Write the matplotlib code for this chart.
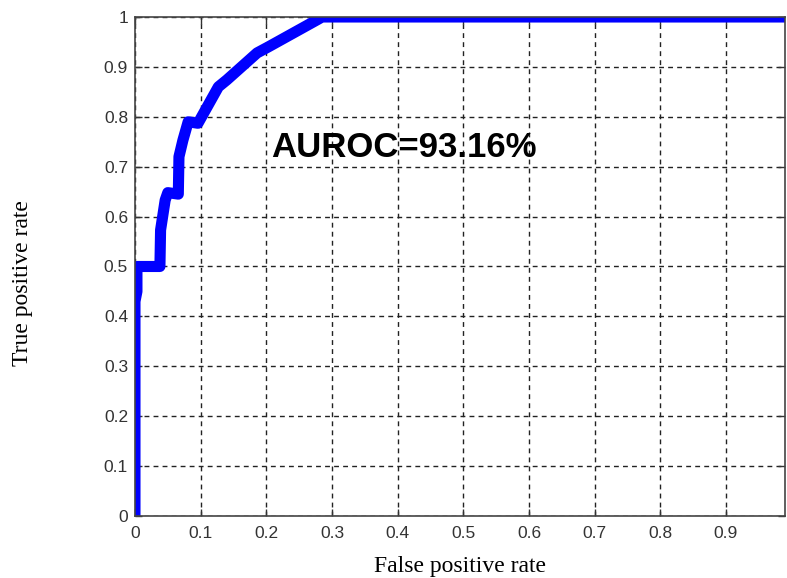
import numpy as np
import matplotlib
matplotlib.use("Agg")
import matplotlib.pyplot as plt

# ROC curve points
fpr = [0, 0, 0.003, 0.003, 0.038, 0.039, 0.046, 0.050, 0.066, 0.067,
       0.073, 0.081, 0.096, 0.127, 0.140, 0.186, 0.203, 0.277, 0.285, 1.0]
tpr = [0, 0.43, 0.45, 0.50, 0.50, 0.573, 0.633, 0.648, 0.645, 0.72,
       0.753, 0.79, 0.787, 0.86, 0.874, 0.928, 0.94, 0.994, 1.0, 1.0]

x_ticks = [0, 0.1, 0.2, 0.3, 0.4, 0.5, 0.6, 0.7, 0.8, 0.9]
x_tick_labels = ["0", "0.1", "0.2", "0.3", "0.4", "0.5", "0.6", "0.7", "0.8", "0.9"]
y_ticks = [0, 0.1, 0.2, 0.3, 0.4, 0.5, 0.6, 0.7, 0.8, 0.9, 1.0]
y_tick_labels = ["0", "0.1", "0.2", "0.3", "0.4", "0.5", "0.6", "0.7", "0.8", "0.9", "1"]
auroc_text = "AUROC=93.16%"

fig = plt.figure(figsize=(7.87, 5.78), dpi=100)
ax = fig.add_axes([0.1715, 0.1073, 0.826, 0.8633])

ax.plot(fpr, tpr, color="#0000ff", linewidth=8, solid_joinstyle="round")

ax.set_xlim(0, 0.99)
ax.set_ylim(0, 1)
ax.set_xticks(x_ticks)
ax.set_xticklabels(x_tick_labels)
ax.set_yticks(y_ticks)
ax.set_yticklabels(y_tick_labels)

ax.grid(True, color="#222222", linestyle=(0, (3.5, 3)), linewidth=1.0)
ax.tick_params(direction="in", length=5, width=1, color="#333333",
               labelsize=12.5, labelcolor="#333333", top=True, right=True)
ax.tick_params(axis="x", pad=7)
ax.tick_params(axis="y", pad=5)
for lbl in ax.get_xticklabels() + ax.get_yticklabels():
    lbl.set_family("Liberation Sans")
for sp in ax.spines.values():
    sp.set_color("#444444")
    sp.set_linewidth(1.2)

ax.text(0.208, 0.72, auroc_text, fontsize=25, fontweight="bold",
        family="Liberation Sans", color="black", va="baseline", ha="left")

ax.set_xlabel("False positive rate", family="Liberation Serif", fontsize=17,
              labelpad=11)
fig.text(0.029, 0.51, "True positive rate", family="Liberation Serif",
         fontsize=17, rotation=90, ha="center", va="center")

fig.savefig("out.png", dpi=100)
